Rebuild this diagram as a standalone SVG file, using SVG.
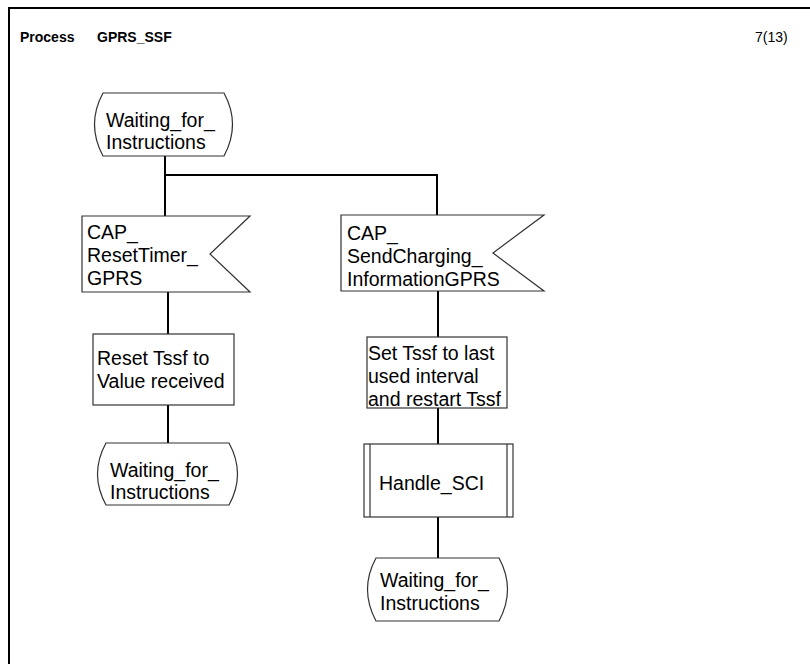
<svg xmlns="http://www.w3.org/2000/svg" width="810" height="664" viewBox="0 0 810 664">
  <style>
    .frame { fill: none; stroke: #000; stroke-width: 2; }
    .shape { fill: #fff; stroke: #333; stroke-width: 1.2; }
    .flow { fill: none; stroke: #000; stroke-width: 2; }
    .t { font-family: "Liberation Sans", Arial, sans-serif; font-size: 19.5px; fill: #000; }
    .title { font-family: "Liberation Sans", Arial, sans-serif; font-size: 14px; font-weight: bold; fill: #000; }
    .page { font-family: "Liberation Sans", Arial, sans-serif; font-size: 14px; fill: #000; }
  </style>
  <rect width="810" height="664" fill="#fff"/>

  <!-- page frame: left and top edges -->
  <path class="frame" d="M9,664 V8 H810"/>
  <text class="title" x="20" y="42">Process</text>
  <text class="title" x="97" y="42">GPRS_SSF</text>
  <text class="page" x="755" y="42">7(13)</text>

  <!-- connectors -->
  <g id="connectors">
    <path class="flow" d="M165,156 V216"/>
    <path class="flow" d="M165,175 H437 V215"/>
    <path class="flow" d="M168,292 V334"/>
    <path class="flow" d="M168,405 V443"/>
    <path class="flow" d="M438,291 V337"/>
    <path class="flow" d="M438,408 V444"/>
    <path class="flow" d="M438,517 V558"/>
  </g>

  <!-- start state -->
  <g id="state_wait_1">
    <path class="shape" d="M103,93 H224 Q241,124.5 224,156 H103 Q86,124.5 103,93 Z"/>
    <text class="t" x="106" y="127">Waiting_for_</text>
    <text class="t" x="106" y="149">Instructions</text>
  </g>

  <!-- input: CAP_ResetTimer_GPRS -->
  <g id="input_reset_timer">
    <path class="shape" d="M82,216 H250 L210,254 L250,292 H82 Z"/>
    <text class="t" x="87" y="239">CAP_</text>
    <text class="t" x="87" y="262">ResetTimer_</text>
    <text class="t" x="87" y="285">GPRS</text>
  </g>

  <!-- input: CAP_SendChargingInformationGPRS -->
  <g id="input_send_charging">
    <path class="shape" d="M341,215 H544 L493,253 L544,291 H341 Z"/>
    <text class="t" x="347" y="240">CAP_</text>
    <text class="t" x="347" y="263">SendCharging_</text>
    <text class="t" x="347" y="286">InformationGPRS</text>
  </g>

  <!-- task: reset timer -->
  <g id="task_reset_tssf">
    <rect class="shape" x="93" y="334" width="141" height="71"/>
    <text class="t" x="97" y="365">Reset Tssf to</text>
    <text class="t" x="97" y="388">Value received</text>
  </g>

  <!-- next state after reset -->
  <g id="state_wait_2">
    <path class="shape" d="M106,443 H229 Q246,474 229,505 H106 Q89,474 106,443 Z"/>
    <text class="t" x="110" y="477">Waiting_for_</text>
    <text class="t" x="110" y="499">Instructions</text>
  </g>

  <!-- task: restart timer -->
  <g id="task_restart_tssf">
    <rect class="shape" x="367" y="337" width="140" height="71"/>
    <text class="t" x="368" y="360">Set Tssf to last</text>
    <text class="t" x="368" y="383">used interval</text>
    <text class="t" x="368" y="406">and restart Tssf</text>
  </g>

  <!-- procedure call -->
  <g id="proc_handle_sci">
    <rect class="shape" x="364" y="444" width="149" height="73"/>
    <line class="shape" x1="370" y1="444" x2="370" y2="517"/>
    <line class="shape" x1="507" y1="444" x2="507" y2="517"/>
    <text class="t" x="379" y="490">Handle_SCI</text>
  </g>

  <!-- next state after charging info -->
  <g id="state_wait_3">
    <path class="shape" d="M376,558 H499 Q516,589.5 499,621 H376 Q359,589.5 376,558 Z"/>
    <text class="t" x="380" y="587">Waiting_for_</text>
    <text class="t" x="380" y="610">Instructions</text>
  </g>
</svg>
